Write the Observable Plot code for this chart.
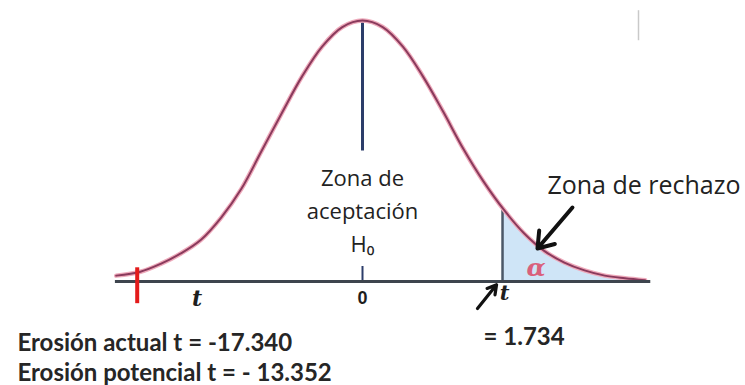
<!DOCTYPE html>
<html>
<head>
<meta charset="utf-8">
<script src="https://cdn.jsdelivr.net/npm/d3@7"></script>
<script src="https://cdn.jsdelivr.net/npm/@observablehq/plot@0.6"></script>
<style>
  html, body { margin: 0; padding: 0; background: #ffffff; }
  svg { display: block; }
</style>
</head>
<body>
<script>
// t-axis positions and curve heights
const tValues = [-3.05, -2.75, -2.5, -2.25, -2, -1.75, -1.5, -1.25, -1, -0.75, -0.5, -0.25, 0,
                 0.25, 0.5, 0.75, 1, 1.25, 1.5, 1.75, 2, 2.25, 2.5, 2.75, 3, 3.25, 3.5];
const density = [0.009, 0.015, 0.027, 0.043, 0.064, 0.098, 0.142, 0.200, 0.258, 0.314, 0.360, 0.390, 0.400,
                 0.390, 0.360, 0.314, 0.260, 0.203, 0.153, 0.110, 0.074, 0.047, 0.029, 0.017, 0.009, 0.005, 0.002];

const criticalT = 1.734;
const criticalDensity = 0.112;
const observedT = -2.79;          // position where the red mark sits on the drawn axis
const axisExtent = [-3.06, 3.57];

const labelAceptacion = "Zona de\naceptación\nH₀";
const labelRechazo = "Zona de rechazo";
const labelAlpha = "α";
const tickLabels = [{t: -2.05, label: "t"}, {t: 0, label: "0"}];
const criticalLabel = "t";
const criticalValueText = "= 1.734";
const resultLines = ["Erosión actual t = -17.340", "Erosión potencial t = - 13.352"];

const curve = tValues.map((t, i) => ({t, d: density[i]}));
const tail = [{t: criticalT, d: criticalDensity}, ...curve.filter(p => p.t > criticalT)];

const plot = Plot.plot({
  width: 745,
  height: 385,
  marginTop: 20,
  marginBottom: 104,
  marginLeft: 39,
  marginRight: 60,
  x: {domain: [-4, 4], axis: null},
  y: {domain: [0, 0.4], axis: null},
  style: {background: "#ffffff", overflow: "visible"},
  marks: [
    // shaded rejection region
    Plot.areaY(tail, {x: "t", y: "d", fill: "#cfe5f7", curve: "catmull-rom"}),
    // centre line at t = 0
    Plot.ruleX([0], {y1: 0.2, y2: 0.4, stroke: "#2c3d6a", strokeWidth: 3}),
    Plot.ruleX([0], {y1: 0, y2: 0.023, stroke: "#2c3d6a", strokeWidth: 2}),
    // critical value line
    Plot.ruleX([criticalT], {y1: 0, y2: criticalDensity, stroke: "#4b5868", strokeWidth: 2.5}),
    // curve (pink halo + dark core)
    Plot.line(curve, {x: "t", y: "d", stroke: "#eeaabb", strokeWidth: 4.5, curve: "catmull-rom"}),
    Plot.line(curve, {x: "t", y: "d", stroke: "#8a3a5c", strokeWidth: 2, curve: "catmull-rom"}),
    // baseline axis
    Plot.ruleY([0], {x1: axisExtent[0], x2: axisExtent[1], stroke: "#3e454e", strokeWidth: 3}),
    // red observed-t mark
    Plot.ruleX([observedT], {y1: -0.034, y2: 0.021, stroke: "#e31b1b", strokeWidth: 4}),
    // thin grey mark top right
    Plot.ruleX([3.418], {y1: 0.369, y2: 0.415, stroke: "#c9c9c9", strokeWidth: 1.5}),
    // axis labels
    Plot.text(tickLabels.slice(0, 1), {x: "t", y: -0.026, text: "label", fontSize: 22, fontWeight: "bold",
      fontStyle: "italic", fontFamily: "DejaVu Serif", fill: "#1e1e1e"}),
    Plot.text(tickLabels.slice(1), {x: "t", y: -0.026, text: "label", fontSize: 18, fontWeight: "bold",
      fontFamily: "Liberation Sans", fill: "#1e1e1e"}),
    // critical label with slash arrow
    Plot.arrow([{x1: 1.424, y1: -0.0414, x2: 1.66, y2: -0.005}], {x1: "x1", y1: "y1", x2: "x2", y2: "y2",
      stroke: "#111", strokeWidth: 3.2, headLength: 7}),
    Plot.text([criticalLabel], {x: 1.76, y: -0.018, text: d => d, fontSize: 21, fontWeight: "bold",
      fontStyle: "italic", fontFamily: "DejaVu Serif", fill: "#1e1e1e"}),
    // alpha
    Plot.text([labelAlpha], {x: 2.15, y: 0.02, text: d => d, fontSize: 25, fontWeight: "bold",
      fontStyle: "italic", fontFamily: "DejaVu Serif", fill: "#d9607c"}),
    // acceptance zone label
    Plot.text([labelAceptacion], {x: 0, y: 0.1125, text: d => d, fontSize: 22, lineHeight: 1.5,
      fontFamily: "Open Sans", fill: "#222"}),
    // rejection zone label + arrow
    Plot.text([labelRechazo], {x: 2.29, y: 0.147, text: d => d, textAnchor: "start", fontSize: 25,
      fontFamily: "Open Sans", fill: "#222"}),
    Plot.arrow([{x1: 2.60, y1: 0.1134, x2: 2.167, y2: 0.0506}], {x1: "x1", y1: "y1", x2: "x2", y2: "y2",
      stroke: "#111", strokeWidth: 4, headLength: 12, headAngle: 70}),
    // values
    Plot.text([criticalValueText], {x: 1.499, y: -0.0858, text: d => d, textAnchor: "start", fontSize: 24,
      fontWeight: "bold", fontFamily: "Lato", fill: "#262626"}),
    Plot.text(resultLines, {x: -4.273, y: (d, i) => -0.095 - i * 0.046, text: d => d, textAnchor: "start",
      fontSize: 24, fontWeight: "bold", fontFamily: "Lato", fill: "#262626"})
  ]
});
document.body.appendChild(plot);
</script>
</body>
</html>
